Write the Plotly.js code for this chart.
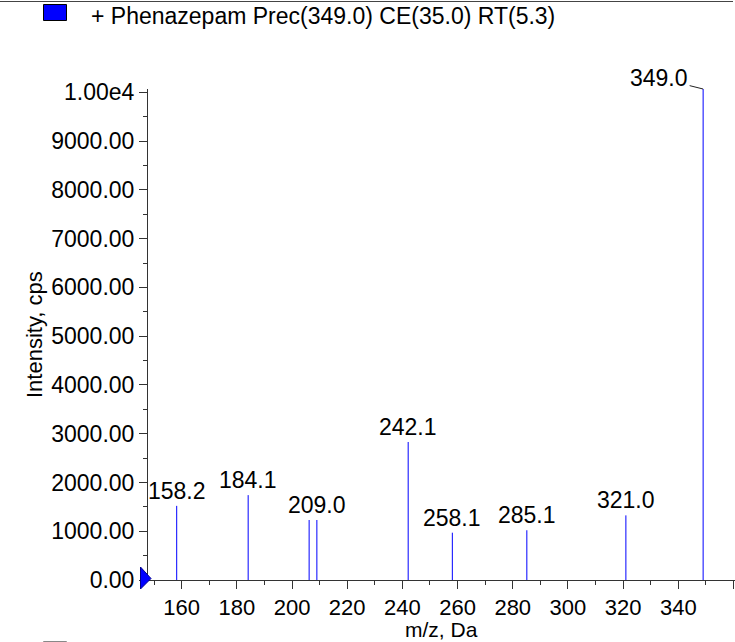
<!DOCTYPE html>
<html>
<head>
<meta charset="utf-8">
<script src="https://cdn.plot.ly/plotly-3.0.1.min.js"></script>
<style>html,body{margin:0;padding:0;background:#fff;}#chart{width:735px;height:642px;}</style>
</head>
<body>
<div id="chart"></div>
<script>
// ---- data ----
const mz        = [158.2, 184.1, 206.2, 209.0, 242.1, 258.1, 285.1, 321.0, 349.0];
const intensity = [1520, 1740, 1230, 1230, 2830, 970, 1020, 1325, 10068];
const peakLabels = ['158.2', '184.1', null, '209.0', '242.1', '258.1', '285.1', '321.0', '349.0'];
const yTickVals = [0, 1000, 2000, 3000, 4000, 5000, 6000, 7000, 8000, 9000, 10000];
const yTickText = ['0.00', '1000.00', '2000.00', '3000.00', '4000.00', '5000.00', '6000.00', '7000.00', '8000.00', '9000.00', '1.00e4'];
const yMinorVals = [500, 1500, 2500, 3500, 4500, 5500, 6500, 7500, 8500, 9500];
const legendText = '+ Phenazepam Prec(349.0) CE(35.0) RT(5.3)';
const xTitle = 'm/z, Da';
const yTitle = 'Intensity, cps';

// ---- geometry ----
const W = 735, H = 642;
const M = {l: 148, r: 0, t: 89, b: 62};
const PW = W - M.l - M.r, PH = H - M.t - M.b;
const px2paperX = p => (p - M.l) / PW;
const px2paperY = p => (H - M.b - p) / PH;
const FONT = 'Liberation Sans, Arial, sans-serif';

// stick spectrum built from the arrays
const xs = [], ys = [];
for (let i = 0; i < mz.length; i++) {
  xs.push(mz[i], mz[i], null);
  ys.push(0, intensity[i], null);
}

const traces = [{
  type: 'scatter', mode: 'lines', x: xs, y: ys,
  line: {color: 'rgb(0,0,255)', width: 1},
  hoverinfo: 'skip', showlegend: false
}];

const annotations = [];
for (let i = 0; i < mz.length; i++) {
  if (!peakLabels[i]) continue;
  if (i === mz.length - 1) {
    annotations.push({
      x: mz[i], y: intensity[i], xref: 'x', yref: 'y',
      text: peakLabels[i], showarrow: true, arrowhead: 0, arrowwidth: 1,
      arrowcolor: '#222', ax: -44, ay: -11,
      font: {family: FONT, size: 23, color: '#000'}
    });
  } else {
    annotations.push({
      x: mz[i], y: intensity[i], xref: 'x', yref: 'y',
      text: peakLabels[i], showarrow: false, yanchor: 'bottom', xanchor: 'center', yshift: 0,
      font: {family: FONT, size: 23, color: '#000'}
    });
  }
}
// legend text
annotations.push({
  xref: 'paper', yref: 'paper', x: px2paperX(89), y: px2paperY(16),
  xanchor: 'left', yanchor: 'middle', showarrow: false,
  text: legendText, font: {family: FONT, size: 23, color: '#000'}
});
// axis titles
annotations.push({
  xref: 'paper', yref: 'paper', x: px2paperX(441), y: px2paperY(629.5),
  xanchor: 'center', yanchor: 'middle', showarrow: false, borderpad: 0,
  text: xTitle, font: {family: FONT, size: 21, color: '#000'}
});
annotations.push({
  xref: 'paper', yref: 'paper', x: px2paperX(34), y: px2paperY(334),
  xanchor: 'center', yanchor: 'middle', showarrow: false, textangle: -90, borderpad: 0,
  text: yTitle, font: {family: FONT, size: 22, color: '#000'}
});

const tri = [[140.5, 567], [151, 578.5], [140.5, 589]]
  .map((p, k) => (k ? 'L ' : 'M ') + px2paperX(p[0]) + ',' + px2paperY(p[1])).join(' ') + ' Z';

const shapes = [
  {type: 'line', xref: 'paper', yref: 'paper', x0: px2paperX(0), x1: px2paperX(733),
   y0: px2paperY(1.5), y1: px2paperY(1.5), line: {color: '#444', width: 1}},
  {type: 'rect', xref: 'paper', yref: 'paper', x0: px2paperX(43.5), x1: px2paperX(66.5),
   y0: px2paperY(4.5), y1: px2paperY(20.5), fillcolor: '#0000ff', line: {color: '#000', width: 1}},
  {type: 'rect', xref: 'paper', yref: 'paper', x0: px2paperX(43.5), x1: px2paperX(66.5),
   y0: px2paperY(641.5), y1: px2paperY(660), fillcolor: '#fff', line: {color: '#888', width: 1}},
  {type: 'path', xref: 'paper', yref: 'paper', path: tri,
   fillcolor: '#0000ff', line: {color: '#00008b', width: 1}, layer: 'above'}
];

const axisCommon = {
  showgrid: false, zeroline: false, showline: true, linecolor: '#333', linewidth: 1,
  ticks: 'outside', ticklen: 8, tickwidth: 1, tickcolor: '#333',
  tickfont: {family: FONT, size: 23, color: '#000'}
};

const layout = {
  width: W, height: H, margin: M,
  paper_bgcolor: '#fff', plot_bgcolor: '#fff',
  showlegend: false,
  xaxis: Object.assign({}, axisCommon, {
    range: [147.8, 360.55], tickmode: 'linear', tick0: 0, dtick: 20,
    tickfont: {family: FONT, size: 22, color: '#000'},
    minor: {dtick: 10, tick0: 0, ticks: 'outside', ticklen: 4, tickcolor: '#333'}
  }),
  yaxis: Object.assign({}, axisCommon, {
    range: [0, 10068], tickmode: 'array', tickvals: yTickVals, ticktext: yTickText,
    minor: {tickmode: 'array', tickvals: yMinorVals, ticks: 'outside', ticklen: 4, tickcolor: '#333'}
  }),
  annotations: annotations,
  shapes: shapes
};

Plotly.newPlot('chart', traces, layout, {displayModeBar: false, staticPlot: true});
</script>
</body>
</html>
